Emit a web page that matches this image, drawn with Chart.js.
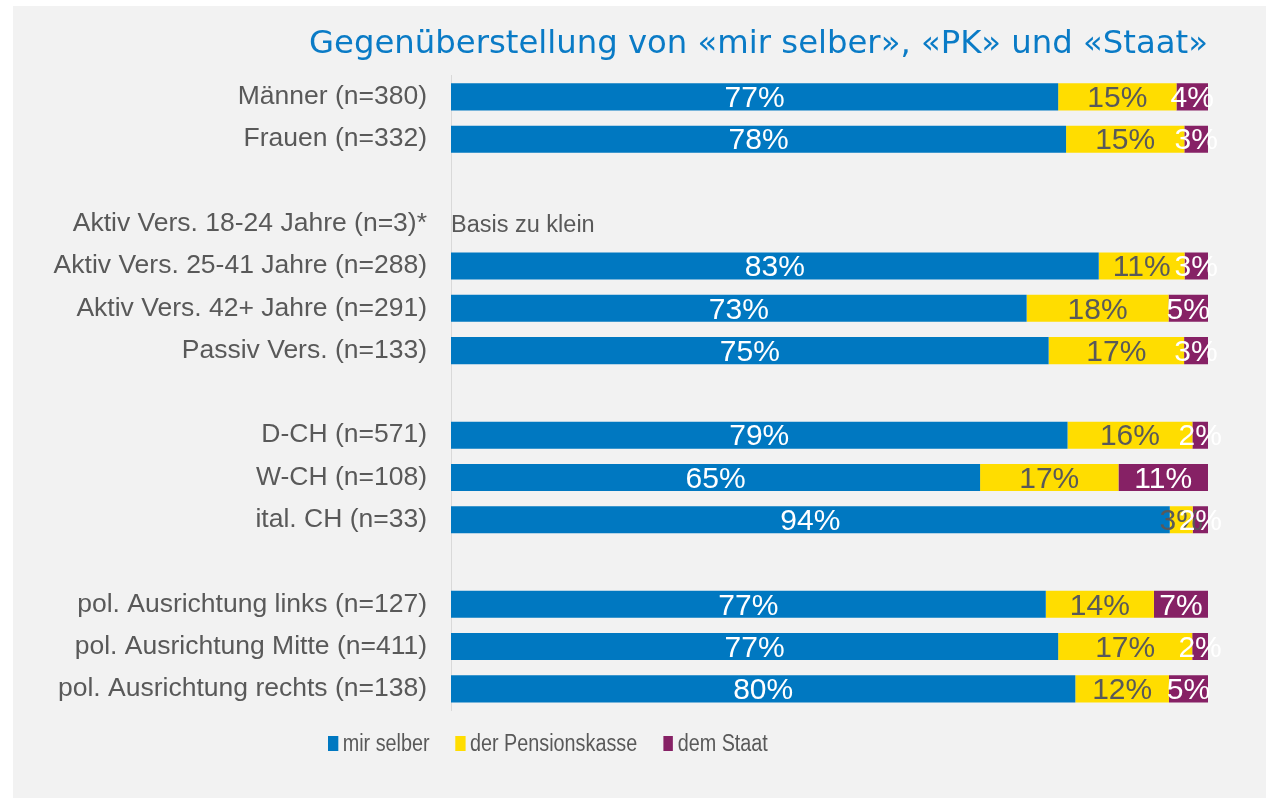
<!DOCTYPE html>
<html>
<head>
<meta charset="utf-8">
<script src="https://cdn.jsdelivr.net/npm/chart.js@4/dist/chart.umd.min.js"></script>
<style>
    body { margin: 0; background: #ffffff; }
    #panel {
        position: absolute; left: 13px; top: 6px;
        width: 1253px; height: 792px; background: #f2f2f2;
    }
    #legend {
        position: absolute; left: 315px; top: 724px;
        display: flex; align-items: center;
        font-family: 'Liberation Sans', Arial, sans-serif; font-size: 23px; color: #595959;
        transform: scaleX(0.86); transform-origin: left center;
        white-space: nowrap;
    }
    #legend .item { display: flex; align-items: center; margin-right: 30px; }
    #legend .box { width: 11.6px; height: 15px; margin-right: 5.5px; }
</style>
</head>
<body>
<div id="panel">
    <canvas id="chart"></canvas>
    <div id="legend"></div>
</div>
<script>
// Rows of the chart (empty strings are the blank separator rows)
const categories = [
    'Männer (n=380)',
    'Frauen (n=332)',
    '',
    'Aktiv Vers. 18-24 Jahre (n=3)*',
    'Aktiv Vers. 25-41 Jahre (n=288)',
    'Aktiv Vers. 42+ Jahre (n=291)',
    'Passiv Vers. (n=133)',
    '',
    'D-CH (n=571)',
    'W-CH (n=108)',
    'ital. CH (n=33)',
    '',
    'pol. Ausrichtung links (n=127)',
    'pol. Ausrichtung Mitte (n=411)',
    'pol. Ausrichtung rechts (n=138)'
];

// Shown percentages per series (null = no bar)
const mirSelber      = [77, 78, null, null, 83, 73, 75, null, 79, 65, 94, null, 77, 77, 80];
const pensionskasse  = [15, 15, null, null, 11, 18, 17, null, 16, 17,  3, null, 14, 17, 12];
const staat          = [ 4,  3, null, null,  3,  5,  3, null,  2, 11,  2, null,  7,  2,  5];

const seriesNames = ['mir selber', 'der Pensionskasse', 'dem Staat'];
const seriesColors = ['#0078c1', '#ffdd00', '#862165'];
const labelColors = ['#ffffff', '#595959', '#ffffff'];

const noteRow = 3;
const noteText = 'Basis zu klein';

const FONT = "'Liberation Sans', Arial, sans-serif";

// bars are drawn as a 100% stack of the shown values
const raw = [mirSelber, pensionskasse, staat];
const rowSums = categories.map((c, i) => raw.reduce((s, arr) => s + (arr[i] || 0), 0));
function shares(arr) {
    return arr.map((v, i) => v == null ? null : v / rowSums[i] * 100);
}

const datasets = raw.map((arr, k) => ({
    label: seriesNames[k],
    data: shares(arr),
    rawValues: arr,
    backgroundColor: seriesColors[k],
    borderWidth: 0,
    barPercentage: 0.64,
    categoryPercentage: 1.0
}));

// percentage labels in the middle of each segment, plus the note
const barLabels = {
    id: 'barLabels',
    afterDatasetsDraw(chart) {
        const ctx = chart.ctx;
        ctx.save();
        ctx.textAlign = 'center';
        ctx.textBaseline = 'middle';
        ctx.font = '30px ' + FONT;
        chart.data.datasets.forEach((ds, k) => {
            const meta = chart.getDatasetMeta(k);
            meta.data.forEach((bar, i) => {
                const v = ds.rawValues[i];
                if (v == null) return;
                ctx.fillStyle = labelColors[k];
                ctx.fillText(v + '%', (bar.x + bar.base) / 2, bar.y + 2);
            });
        });
        const xs = chart.scales.x, ys = chart.scales.y;
        ctx.textAlign = 'left';
        ctx.font = '23.5px ' + FONT;
        ctx.fillStyle = '#595959';
        ctx.fillText(noteText, xs.getPixelForValue(0), ys.getPixelForValue(noteRow) + 2);
        ctx.restore();
    }
};

const chart = new Chart(document.getElementById('chart'), {
    type: 'bar',
    data: { labels: categories, datasets: datasets },
    plugins: [barLabels],
    options: {
        indexAxis: 'y',
        responsive: true,
        maintainAspectRatio: false,
        animation: false,
        layout: { padding: { top: 0, right: 58, bottom: 88, left: 0 } },
        plugins: {
            legend: { display: false },
            tooltip: { enabled: false },
            title: {
                display: true,
                text: 'Gegenüberstellung von «mir selber», «PK» und «Staat»',
                align: 'end',
                color: '#0a7bc6',
                font: { family: "'DejaVu Sans', Verdana, sans-serif", size: 32.3, weight: 'normal' },
                padding: { top: 19, bottom: 12 }
            }
        },
        scales: {
            x: {
                stacked: true,
                min: 0,
                max: 100,
                display: false
            },
            y: {
                stacked: true,
                grid: { display: false },
                border: { display: true, color: '#d9d9d9', width: 1 },
                ticks: {
                    color: '#595959',
                    padding: 16,
                    font: { family: FONT, size: 26.5 }
                },
                afterFit(scale) { scale.width = 438; }
            }
        }
    }
});

// legend built from the datasets
const legendEl = document.getElementById('legend');
chart.data.datasets.forEach(ds => {
    const item = document.createElement('div');
    item.className = 'item';
    const box = document.createElement('span');
    box.className = 'box';
    box.style.background = ds.backgroundColor;
    const txt = document.createElement('span');
    txt.textContent = ds.label;
    item.appendChild(box);
    item.appendChild(txt);
    legendEl.appendChild(item);
});
</script>
</body>
</html>
